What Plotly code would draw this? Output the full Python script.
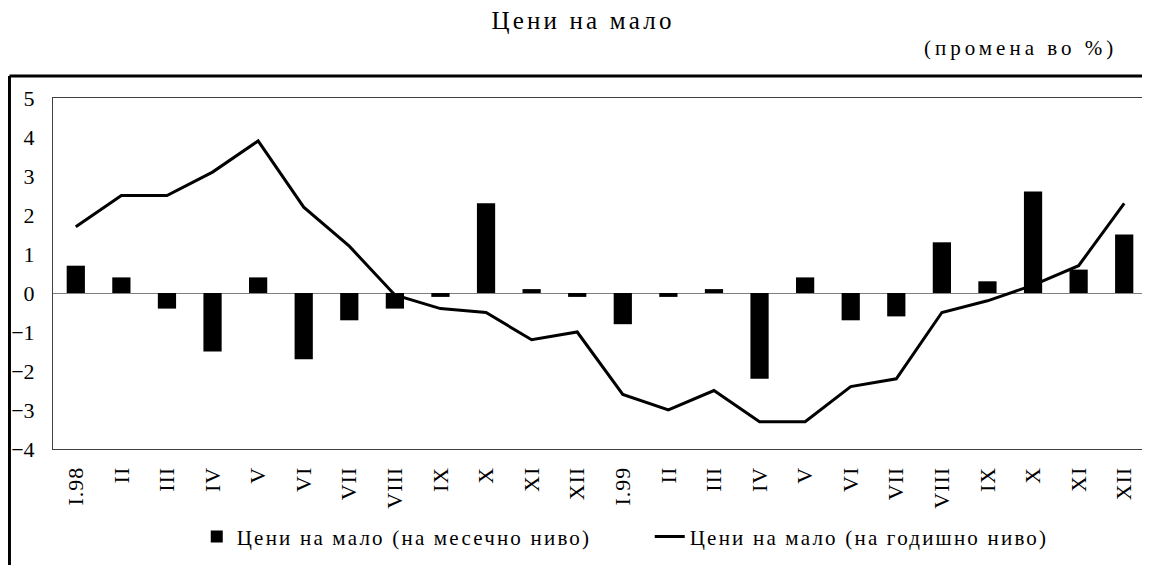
import plotly.graph_objects as go

months = ["I.98", "II", "III", "IV", "V", "VI", "VII", "VIII", "IX", "X", "XI", "XII",
          "I.99", "II", "III", "IV", "V", "VI", "VII", "VIII", "IX", "X", "XI", "XII"]
monthly = [0.7, 0.4, -0.4, -1.5, 0.4, -1.7, -0.7, -0.4, -0.1, 2.3, 0.1, -0.1,
           -0.8, -0.1, 0.1, -2.2, 0.4, -0.7, -0.6, 1.3, 0.3, 2.6, 0.6, 1.5]
annual = [1.7, 2.5, 2.5, 3.1, 3.9, 2.2, 1.2, -0.05, -0.4, -0.5, -1.2, -1.0,
          -2.6, -3.0, -2.5, -3.3, -3.3, -2.4, -2.2, -0.5, -0.2, 0.2, 0.7, 2.3]
yticks = [5, 4, 3, 2, 1, 0, -1, -2, -3, -4]

x = list(range(len(months)))
FONT = "Liberation Serif, Times New Roman, serif"


def spaced(t, px):
    return f'<span style="letter-spacing:{px}px">{t}</span>'


fig = go.Figure()
fig.add_trace(go.Bar(x=x, y=monthly, name=spaced("Цени на мало (на месечно ниво)", 2.2),
                     marker=dict(color="black", line=dict(width=0))))
fig.add_trace(go.Scatter(x=x, y=annual, mode="lines",
                         name=spaced("Цени на мало (на годишно ниво)", 2.2),
                         line=dict(color="black", width=3)))

fig.update_layout(
    width=1142, height=557,
    margin=dict(l=45, r=3, t=90, b=116, autoexpand=False),
    paper_bgcolor="white", plot_bgcolor="white",
    font=dict(family=FONT, size=21, color="black"),
    bargap=0.6,
    title=dict(text=spaced("Цени на мало", 3.2), x=0.5035, xanchor="center", y=0.9785,
               yanchor="middle", font=dict(family=FONT, size=25, color="black")),
    legend=dict(orientation="h", x=0.1314, xanchor="left", y=-0.25, yanchor="middle",
                entrywidth=408, entrywidthmode="pixels",
                font=dict(family=FONT, size=21, color="black"),
                bgcolor="rgba(0,0,0,0)"),
    xaxis=dict(tickmode="array", tickvals=x, ticktext=[spaced(m, 1) for m in months],
               tickangle=-90, automargin=False, ticklabelstandoff=8,
               range=[-0.5, len(months) - 0.5], showgrid=False, zeroline=False,
               showline=True, linecolor="#404040", linewidth=1, mirror=True,
               ticks="", tickfont=dict(family=FONT, size=22, color="black")),
    yaxis=dict(range=[-4, 5], tickvals=yticks, showgrid=False, automargin=False,
               zeroline=True, zerolinecolor="#808080", zerolinewidth=1,
               showline=True, linecolor="#404040", linewidth=1, mirror=True,
               ticks="", ticklabelstandoff=13,
               tickfont=dict(family=FONT, size=22, color="black")),
    annotations=[dict(text=spaced("(промена во %)", 4), xref="paper", yref="paper",
                      x=0.9745, xanchor="right", y=1.142, yanchor="middle",
                      showarrow=False, font=dict(family=FONT, size=21, color="black"))],
    shapes=[
        dict(type="line", xref="paper", yref="paper", x0=-0.0398, x1=1.01,
             y0=1.0627, y1=1.0627, line=dict(color="black", width=3)),
        dict(type="line", xref="paper", yref="paper", x0=-0.0398, x1=-0.0398,
             y0=1.0627, y1=-0.35, line=dict(color="black", width=3)),
    ],
)

fig.write_html("out.html")
